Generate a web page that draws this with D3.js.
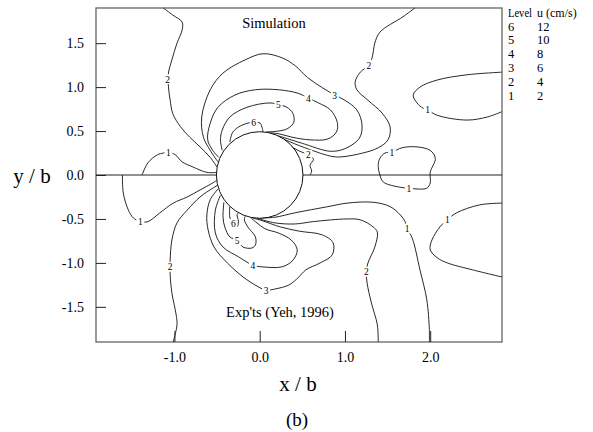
<!DOCTYPE html>
<html>
<head>
<meta charset="utf-8">
<script src="https://cdn.jsdelivr.net/npm/d3@7"></script>
<style>
  body { margin: 0; background: #fff; }
  svg text { font-family: "Liberation Serif", "Times New Roman", serif; fill: #000; }
</style>
</head>
<body>
<svg id="chart" width="593" height="432"></svg>
<script>
// contour lines, in (x/b, y/b)
const lev2UpperLeft = [[-1.13,1.90],[-1.02,1.82],[-0.91,1.74],[-0.91,1.65],[-0.97,1.50],[-1.03,1.31],[-1.07,1.16],[-1.07,1.00],[-1.05,0.85],[-1.02,0.70],[-0.93,0.55],[-0.82,0.43],[-0.70,0.32],[-0.58,0.20],[-0.50,0.09]];
const lev1UpperLeft = [[-1.38,0],[-1.31,0.14],[-1.20,0.23],[-1.13,0.25],[-1.07,0.26],[-0.99,0.23],[-0.91,0.15],[-0.78,0.09],[-0.62,0.03],[-0.50,0.03]];
const lev3Upper = [[-0.49,0.15],[-0.58,0.28],[-0.66,0.43],[-0.68,0.66],[-0.58,0.97],[-0.43,1.16],[-0.17,1.31],[0.04,1.38],[0.27,1.33],[0.42,1.24],[0.56,1.11],[0.74,0.99],[0.88,0.91],[1.00,0.85],[1.14,0.74],[1.20,0.57],[1.17,0.42],[1.00,0.30],[0.83,0.27],[0.50,0.36],[0.27,0.43],[0.12,0.47]];
const lev4Upper = [[-0.48,0.20],[-0.55,0.28],[-0.61,0.40],[-0.58,0.59],[-0.49,0.77],[-0.29,0.91],[-0.05,0.97],[0.22,0.97],[0.45,0.93],[0.57,0.875],[0.69,0.82],[0.83,0.74],[0.91,0.60],[0.90,0.49],[0.80,0.41],[0.59,0.40],[0.38,0.43],[0.22,0.47],[0.10,0.48]];
const lev5Upper = [[-0.44,0.28],[-0.46,0.40],[-0.44,0.51],[-0.35,0.66],[-0.15,0.77],[0.12,0.82],[0.22,0.80],[0.32,0.77],[0.39,0.70],[0.40,0.60],[0.33,0.53],[0.22,0.50],[0.075,0.49]];
const lev6Upper = [[-0.35,0.375],[-0.32,0.48],[-0.25,0.545],[-0.14,0.59],[-0.07,0.60],[0.005,0.59],[0.03,0.53],[0.04,0.49]];
const lev2UpperRight = [[1.82,1.90],[1.68,1.80],[1.41,1.625],[1.35,1.50],[1.32,1.34],[1.28,1.25],[1.18,1.17],[1.12,1.06],[1.14,0.97],[1.27,0.85],[1.435,0.705],[1.53,0.545],[1.505,0.40],[1.39,0.31],[1.21,0.25],[0.94,0.205],[0.83,0.215],[0.53,0.31],[0.30,0.40],[0.145,0.466]];
const lev2Short = [[0.145,0.455],[0.32,0.35],[0.47,0.27],[0.57,0.23],[0.63,0.18],[0.59,0.11],[0.61,0.045],[0.59,0]];
const lev1UpperLobe = [[2.84,1.17],[2.43,1.14],[2.08,1.08],[1.88,1.00],[1.80,0.91],[1.845,0.82],[1.915,0.76],[1.97,0.74],[2.08,0.68],[2.43,0.625],[2.67,0.66],[2.84,0.72]];
const lev1Loop = [[1.55,0.26],[1.67,0.31],[1.845,0.32],[2.00,0.28],[2.06,0.19],[2.00,0.03],[2.00,-0.09],[1.96,-0.15],[1.86,-0.16],[1.75,-0.15],[1.65,-0.14],[1.45,-0.08],[1.41,0],[1.39,0.11],[1.41,0.19],[1.47,0.25]];
const lev1LowerLeft = [[-1.61,0],[-1.60,-0.205],[-1.54,-0.40],[-1.48,-0.49],[-1.40,-0.53],[-1.31,-0.53],[-1.17,-0.43],[-1.015,-0.32],[-0.85,-0.25],[-0.70,-0.17],[-0.55,-0.09],[-0.50,-0.057]];
const lev2LowerLeft = [[-0.49,-0.114],[-0.55,-0.15],[-0.70,-0.25],[-0.85,-0.40],[-0.97,-0.545],[-1.03,-0.74],[-1.05,-0.97],[-1.05,-1.045],[-1.05,-1.14],[-1.03,-1.34],[-0.98,-1.59],[-0.97,-1.705],[-1.015,-1.90]];
const lev3Lower = [[-0.49,-0.16],[-0.58,-0.28],[-0.62,-0.455],[-0.605,-0.625],[-0.535,-0.82],[-0.38,-1.00],[-0.195,-1.16],[-0.02,-1.27],[0.075,-1.31],[0.19,-1.295],[0.345,-1.25],[0.46,-1.16],[0.54,-1.08],[0.71,-1.00],[0.85,-0.91],[0.86,-0.77],[0.73,-0.68],[0.47,-0.64],[0.24,-0.59],[0.03,-0.52],[-0.08,-0.49]];
const lev4Lower = [[-0.46,-0.23],[-0.52,-0.40],[-0.52,-0.66],[-0.43,-0.82],[-0.25,-0.93],[-0.15,-0.99],[-0.08,-1.03],[0.03,-1.045],[0.26,-1.045],[0.39,-0.97],[0.44,-0.85],[0.37,-0.74],[0.22,-0.66],[0.06,-0.61],[-0.11,-0.48]];
const lev5Lower = [[-0.42,-0.31],[-0.43,-0.48],[-0.41,-0.59],[-0.35,-0.705],[-0.265,-0.74],[-0.195,-0.82],[-0.09,-0.83],[-0.05,-0.795],[-0.05,-0.705],[-0.14,-0.59],[-0.18,-0.51],[-0.17,-0.47]];
const lev6Lower = [[-0.35,-0.36],[-0.35,-0.48],[-0.31,-0.557],[-0.265,-0.59],[-0.25,-0.53],[-0.265,-0.45],[-0.25,-0.43]];
const lev1LowerRight = [[-0.02,-0.49],[0.18,-0.48],[0.415,-0.43],[0.80,-0.36],[1.025,-0.32],[1.33,-0.31],[1.53,-0.36],[1.65,-0.455],[1.705,-0.53],[1.73,-0.61],[1.79,-0.72],[1.88,-1.08],[1.96,-1.42],[1.99,-1.76],[1.99,-1.90]];
const lev2LowerRight = [[-0.04,-0.49],[0.18,-0.545],[0.415,-0.557],[0.63,-0.53],[1.025,-0.50],[1.18,-0.51],[1.33,-0.59],[1.38,-0.65],[1.35,-0.82],[1.27,-1.00],[1.25,-1.10],[1.26,-1.23],[1.31,-1.455],[1.38,-1.705],[1.39,-1.90]];
const lev1LowerLobe = [[2.84,-0.32],[2.58,-0.34],[2.31,-0.43],[2.20,-0.51],[2.115,-0.59],[2.02,-0.74],[2.00,-0.85],[2.08,-0.94],[2.20,-1.00],[2.50,-1.08],[2.84,-1.16]];

// contour labels: x/b, y/b, level
const contourLabels = [
  [-1.08,1.09,'2'], [-1.07,0.26,'1'], [0.88,0.91,'3'], [0.57,0.875,'4'], [0.22,0.80,'5'],
  [-0.07,0.60,'6'], [1.28,1.25,'2'], [0.57,0.23,'2'], [1.97,0.74,'1'], [1.55,0.26,'1'],
  [1.75,-0.15,'1'], [-1.40,-0.53,'1'], [-1.05,-1.045,'2'], [0.075,-1.31,'3'], [-0.08,-1.03,'4'],
  [-0.265,-0.74,'5'], [-0.31,-0.557,'6'], [1.73,-0.61,'1'], [1.25,-1.10,'2'], [2.20,-0.51,'1']
];

const xTicks = [-1, 0, 1, 2];
const yTicks = [-1.5, -1, -0.5, 0, 0.5, 1, 1.5];
const legendLevels = [6, 5, 4, 3, 2, 1];
const legendSpeeds = [12, 10, 8, 6, 4, 2];
const cylinderRadius = 0.5;

const openLines = [lev2UpperLeft, lev1UpperLeft, lev3Upper, lev4Upper, lev5Upper, lev6Upper,
  lev2UpperRight, lev2Short, lev1UpperLobe, lev1LowerLeft, lev2LowerLeft, lev3Lower, lev4Lower,
  lev5Lower, lev6Lower, lev1LowerRight, lev2LowerRight, lev1LowerLobe];
const closedLines = [lev1Loop];

const svg = d3.select('#chart');

let x = d3.scaleLinear().domain([-1.92, 2.842]).range([96, 502]);
let y = d3.scaleLinear().domain([-1.9, 1.9]).range([342, 8]);

// frame
svg.append('rect')
   .attr('x', x.range()[0]).attr('y', y.range()[1])
   .attr('width', x.range()[1] - x.range()[0])
   .attr('height', y.range()[0] - y.range()[1])
   .attr('fill', 'none')
   .attr('stroke', '#666')
   .attr('stroke-width', 1.3);

// centre line
svg.append('line')
   .attr('x1', x.range()[0]).attr('x2', x.range()[1])
   .attr('y1', y(0)).attr('y2', y(0))
   .attr('stroke', '#222').attr('stroke-width', 1);

let line = d3.line()
             .x(d => x(d[0]))
             .y(d => y(d[1]))
             .curve(d3.curveCatmullRom.alpha(0.5));

let closedLine = d3.line()
             .x(d => x(d[0]))
             .y(d => y(d[1]))
             .curve(d3.curveCatmullRomClosed.alpha(0.5));

let contours = svg.append('g')
                  .attr('fill', 'none')
                  .attr('stroke', '#111')
                  .attr('stroke-width', 0.9);

contours.selectAll('.open')
        .data(openLines)
        .enter()
        .append('path')
        .attr('class', 'open')
        .attr('d', line);

contours.selectAll('.closed')
        .data(closedLines)
        .enter()
        .append('path')
        .attr('class', 'closed')
        .attr('d', closedLine);

// cylinder
let rx = x(cylinderRadius) - x(0);
let ry = y(0) - y(cylinderRadius);
svg.append('ellipse')
   .attr('cx', x(0)).attr('cy', y(0))
   .attr('rx', (rx + ry) / 2).attr('ry', (rx + ry) / 2)
   .attr('fill', '#fff')
   .attr('stroke', '#111')
   .attr('stroke-width', 1);

// labels on the contours
let labels = svg.append('g');
labels.selectAll('rect')
      .data(contourLabels)
      .enter()
      .append('rect')
      .attr('x', d => x(d[0]) - 4)
      .attr('y', d => y(d[1]) - 5)
      .attr('width', 8)
      .attr('height', 10)
      .attr('fill', '#fff');
labels.selectAll('text')
      .data(contourLabels)
      .enter()
      .append('text')
      .attr('x', d => x(d[0]))
      .attr('y', d => y(d[1]) + 3.5)
      .attr('text-anchor', 'middle')
      .attr('font-size', 9.5)
      .text(d => d[2]);

// axes, ticks pointing inward
let xAxis = svg.append('g')
   .attr('transform', `translate(0,${y.range()[0]})`)
   .call(d3.axisBottom(x).tickValues(xTicks).tickSize(-11).tickPadding(10)
           .tickFormat(d => d.toFixed(1)));
let yAxis = svg.append('g')
   .attr('transform', `translate(${x.range()[0]},0)`)
   .call(d3.axisLeft(y).tickValues(yTicks).tickSize(-10).tickPadding(12)
           .tickFormat(d => d.toFixed(1)));

[xAxis, yAxis].forEach(a => {
  a.select('.domain').remove();
  a.selectAll('line').attr('stroke', '#222');
  a.selectAll('text')
   .attr('font-family', '"Liberation Serif", "Times New Roman", serif')
   .attr('font-size', 14)
   .attr('fill', '#000');
});

// annotations
svg.append('text')
   .attr('x', 274).attr('y', 28)
   .attr('text-anchor', 'middle')
   .attr('font-size', 14.5)
   .text('Simulation');

svg.append('text')
   .attr('x', 280).attr('y', 317)
   .attr('text-anchor', 'middle')
   .attr('font-size', 14.5)
   .text("Exp'ts (Yeh, 1996)");

svg.append('text')
   .attr('x', 298).attr('y', 391)
   .attr('text-anchor', 'middle')
   .attr('font-size', 21)
   .text('x / b');

svg.append('text')
   .attr('x', 32).attr('y', 183)
   .attr('text-anchor', 'middle')
   .attr('font-size', 21)
   .text('y / b');

svg.append('text')
   .attr('x', 297).attr('y', 426)
   .attr('text-anchor', 'middle')
   .attr('font-size', 19)
   .text('(b)');

// legend
let legend = svg.append('g').attr('font-size', 12.5);
legend.append('text').attr('x', 508).attr('y', 17)
      .attr('font-size', 12).attr('textLength', 24).attr('lengthAdjust', 'spacingAndGlyphs')
      .text('Level');
legend.append('text').attr('x', 537).attr('y', 17)
      .attr('font-size', 12)
      .text('u (cm/s)');
legend.selectAll('.lvl')
      .data(legendLevels)
      .enter()
      .append('text')
      .attr('class', 'lvl')
      .attr('x', 508)
      .attr('y', (d, i) => 30.5 + i * 13.8)
      .text(d => d);
legend.selectAll('.spd')
      .data(legendSpeeds)
      .enter()
      .append('text')
      .attr('class', 'spd')
      .attr('x', 537)
      .attr('y', (d, i) => 30.5 + i * 13.8)
      .text(d => d);
</script>
</body>
</html>
